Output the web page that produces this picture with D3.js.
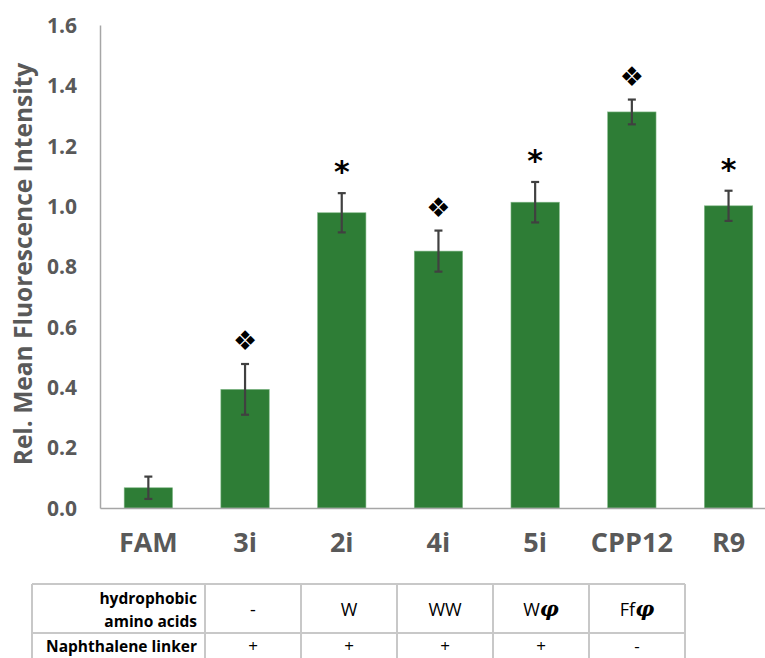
<!DOCTYPE html>
<html>
<head>
<meta charset="utf-8">
<script src="https://cdn.jsdelivr.net/npm/d3@7"></script>
<style>
  html, body { margin: 0; padding: 0; background: #fff; }
  svg { display: block; }
</style>
</head>
<body>
<svg id="chart" width="765" height="658"></svg>
<script>
// ---- data ----
const categories = ["FAM", "3i", "2i", "4i", "5i", "CPP12", "R9"];
const values     = [0.067, 0.393, 0.978, 0.851, 1.013, 1.312, 1.001];
const errors     = [0.037, 0.084, 0.065, 0.068, 0.067, 0.041, 0.050];
const markers    = ["", "\u2756", "*", "\u2756", "*", "\u2756", "*"];
const yTicks     = [0.0, 0.2, 0.4, 0.6, 0.8, 1.0, 1.2, 1.4, 1.6];
const yLabel     = "Rel. Mean Fluorescence Intensity";
const tableRowLabels = [["hydrophobic", "amino acids"], ["Naphthalene linker"]];
const hydrophobic = ["-", "W", "WW", "W\u03C6", "Ff\u03C6"];
const linker      = ["+", "+", "+", "+", "-"];

// ---- layout ----
const svg = d3.select("#chart");
const axisX = 100, baseY = 508, topY = 25;
const green = "#2e7d36", grey = "#595959", axisGrey = "#a6a6a6";
const font = "'Open Sans', 'Noto Sans', sans-serif";

const x = d3.scaleBand().domain(categories).range([axisX, axisX + 7 * 96.7])
  .paddingInner(0.5).paddingOuter(0.25);
const y = d3.scaleLinear().domain([0, 1.6]).range([baseY, topY]);

// bars
svg.append("g").selectAll("rect").data(categories).join("rect")
  .attr("x", d => x(d)).attr("width", x.bandwidth())
  .attr("y", (d, i) => y(values[i]))
  .attr("height", (d, i) => y(0) - y(values[i]))
  .attr("fill", green).attr("stroke", "#7fb685").attr("stroke-width", 0.6);

// error bars
const eg = svg.append("g").attr("stroke", "#404040").attr("stroke-width", 2.2);
categories.forEach((c, i) => {
  const cx = x(c) + x.bandwidth() / 2;
  const y1 = y(values[i] + errors[i]), y2 = y(values[i] - errors[i]);
  eg.append("line").attr("x1", cx).attr("x2", cx).attr("y1", y1).attr("y2", y2);
  eg.append("line").attr("x1", cx - 4).attr("x2", cx + 4).attr("y1", y1).attr("y2", y1);
  eg.append("line").attr("x1", cx - 4).attr("x2", cx + 4).attr("y1", y2).attr("y2", y2);
});

// significance markers
categories.forEach((c, i) => {
  if (!markers[i]) return;
  const cx = x(c) + x.bandwidth() / 2;
  const top = y(values[i] + errors[i]);
  if (markers[i] === "*") {
    svg.append("text").attr("x", cx).attr("y", top - 11)
      .attr("text-anchor", "middle").attr("font-family", "'DejaVu Sans', sans-serif")
      .attr("font-weight", "bold").attr("font-size", 30).attr("fill", "#000")
      .text("*");
  } else {
    svg.append("text").attr("x", cx).attr("y", top - 14)
      .attr("text-anchor", "middle").attr("font-family", "'DejaVu Sans', sans-serif")
      .attr("font-size", 27).attr("fill", "#000")
      .text(markers[i]);
  }
});

// y axis
const yAxis = svg.append("g").attr("transform", `translate(${axisX},0)`)
  .call(d3.axisLeft(y).tickValues(yTicks).tickFormat(d3.format(".1f")).tickSize(0).tickPadding(23));
yAxis.select(".domain").attr("stroke", axisGrey).attr("stroke-width", 1.5);
yAxis.selectAll("text").attr("font-family", font).attr("font-weight", "bold")
  .attr("font-size", 21).attr("fill", grey).attr("dy", "0.35em");

// x axis
const xAxis = svg.append("g").attr("transform", `translate(0,${baseY})`)
  .call(d3.axisBottom(x).tickSize(0).tickPadding(25));
xAxis.select(".domain").attr("stroke", axisGrey).attr("stroke-width", 1.5);
xAxis.selectAll("text").attr("font-family", font).attr("font-weight", "bold")
  .attr("font-size", 27).attr("fill", grey);

// y label
svg.append("text").attr("transform", "translate(32,264) rotate(-90)")
  .attr("text-anchor", "middle").attr("font-family", font).attr("font-weight", "bold")
  .attr("font-size", 24.5).attr("fill", grey).text(yLabel);

// ---- table ----
const colEdges = [32, 205, 301, 397, 493, 589, 685];
const rowEdges = [584, 633, 672];
const tg = svg.append("g");
const lineColor = "#c8c8c8";
rowEdges.forEach(ry => tg.append("line").attr("x1", colEdges[0]).attr("x2", colEdges[colEdges.length - 1])
  .attr("y1", ry).attr("y2", ry).attr("stroke", lineColor).attr("stroke-width", 2));
colEdges.forEach(cx => tg.append("line").attr("x1", cx).attr("x2", cx)
  .attr("y1", rowEdges[0]).attr("y2", rowEdges[rowEdges.length - 1]).attr("stroke", lineColor).attr("stroke-width", 2));

const labelX = 197;
const labFs = 15.5;
tg.append("text").attr("x", labelX).attr("y", 604).attr("text-anchor", "end")
  .attr("font-family", font).attr("font-weight", "bold").attr("font-size", labFs).attr("fill", "#000")
  .text(tableRowLabels[0][0]);
tg.append("text").attr("x", labelX).attr("y", 627).attr("text-anchor", "end")
  .attr("font-family", font).attr("font-weight", "bold").attr("font-size", labFs).attr("fill", "#000")
  .text(tableRowLabels[0][1]);
tg.append("text").attr("x", labelX).attr("y", 652).attr("text-anchor", "end")
  .attr("font-family", font).attr("font-weight", "bold").attr("font-size", labFs).attr("fill", "#000")
  .text(tableRowLabels[1][0]);

hydrophobic.forEach((t, i) => {
  const cx = (colEdges[i + 1] + colEdges[i + 2]) / 2;
  const txt = tg.append("text").attr("x", cx).attr("y", 616).attr("text-anchor", "middle")
    .attr("font-family", font).attr("font-size", 18).attr("fill", "#000");
  const parts = t.split("\u03C6");
  txt.append("tspan").text(parts[0]);
  if (parts.length > 1) {
    txt.append("tspan").attr("font-style", "italic").attr("font-weight", "bold")
      .attr("font-family", "'DejaVu Serif', serif").attr("font-size", 21).text("\u03C6");
  }
});
linker.forEach((t, i) => {
  const cx = (colEdges[i + 1] + colEdges[i + 2]) / 2;
  tg.append("text").attr("x", cx).attr("y", 652).attr("text-anchor", "middle")
    .attr("font-family", font).attr("font-size", 17).attr("fill", "#000")
    .text(t);
});
</script>
</body>
</html>
